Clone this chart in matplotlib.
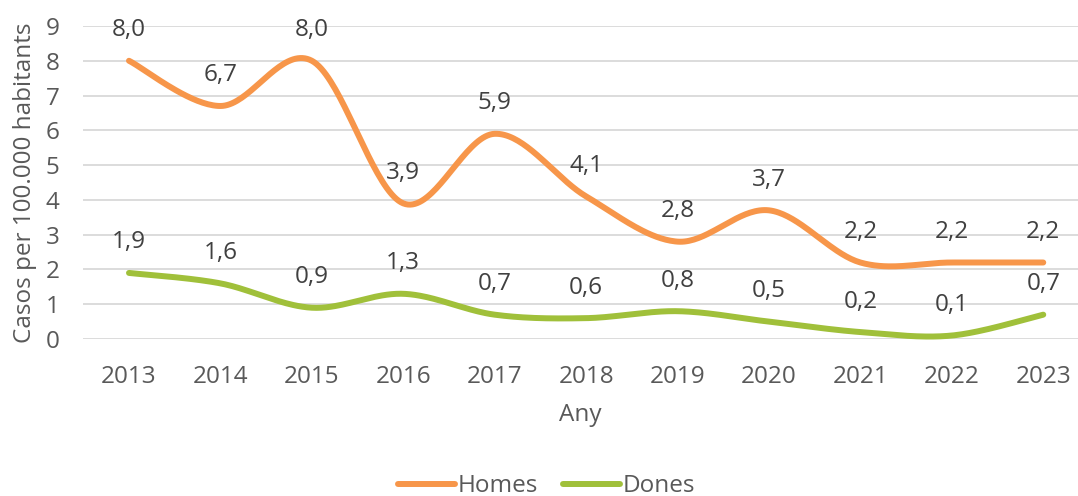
import numpy as np
import matplotlib
matplotlib.use("Agg")
import matplotlib.pyplot as plt
from matplotlib.lines import Line2D

plt.rcParams['font.family'] = ['Open Sans', 'DejaVu Sans']

years = ['2013', '2014', '2015', '2016', '2017', '2018', '2019', '2020', '2021', '2022', '2023']
homes = [8.0, 6.7, 8.0, 3.9, 5.9, 4.1, 2.8, 3.7, 2.2, 2.2, 2.2]
dones = [1.9, 1.6, 0.9, 1.3, 0.7, 0.6, 0.8, 0.5, 0.2, 0.1, 0.7]
series_names = ['Homes', 'Dones']
colors = ['#F7964A', '#A0C03A']

FS = 17.5


def smooth(xs, ys, n=40):
    xs = np.asarray(xs, float)
    ys = np.asarray(ys, float)
    P = np.column_stack([xs, ys])
    Pext = np.vstack([P[0], P, P[-1]])
    out = []
    for i in range(len(P) - 1):
        p0, p1, p2, p3 = Pext[i], Pext[i + 1], Pext[i + 2], Pext[i + 3]
        c1 = p1 + (p2 - p0) / 6.0
        c2 = p2 - (p3 - p1) / 6.0
        t = np.linspace(0, 1, n)[:, None]
        seg = ((1 - t) ** 3) * p1 + 3 * ((1 - t) ** 2) * t * c1 + 3 * (1 - t) * t ** 2 * c2 + t ** 3 * p2
        out.append(seg if i == 0 else seg[1:])
    out = np.vstack(out)
    return out[:, 0], out[:, 1]


fig = plt.figure(figsize=(10.78, 4.96), dpi=100)
ax = fig.add_axes([0.077, 0.3165, 0.923, 0.6311])

x = np.arange(len(years))
for vals, name, col in zip([homes, dones], series_names, colors):
    sx, sy = smooth(x, vals)
    ax.plot(sx, sy, color=col, lw=4.3, solid_capstyle='round', clip_on=False, zorder=3)
    for xi, v in zip(x, vals):
        ax.annotate(f"{v:.1f}".replace('.', ','), (xi, v), xytext=(0, 22),
                    textcoords='offset points', ha='center', va='center',
                    fontsize=FS, color='#404040', zorder=4)

ax.set_xlim(-0.503, 10.38)
ax.set_ylim(0, 9)
ax.set_yticks(range(0, 10))
ax.set_xticks(x)
ax.set_xticklabels(years)
ax.yaxis.grid(True, color='#D9D9D9', lw=1.3)
ax.set_axisbelow(True)
for s in ax.spines.values():
    s.set_visible(False)
ax.tick_params(axis='both', length=0, labelsize=FS, colors='#595959')
ax.tick_params(axis='x', pad=19)
ax.tick_params(axis='y', pad=17)
ax.set_xlabel('Any', fontsize=FS, color='#595959', labelpad=10)
ax.set_ylabel('Casos per 100.000 habitants', fontsize=FS, color='#595959', labelpad=6)

handles = [Line2D([0], [0], color=c, lw=4.3, solid_capstyle='round') for c in colors]
fig.legend(handles, series_names, loc='center', bbox_to_anchor=(0.507, 0.02),
           ncol=2, frameon=False, fontsize=FS, labelcolor='#595959',
           handlelength=2.35, handletextpad=0.12, columnspacing=1.0,
           borderpad=0.05)

fig.savefig('out.png', dpi=100)
